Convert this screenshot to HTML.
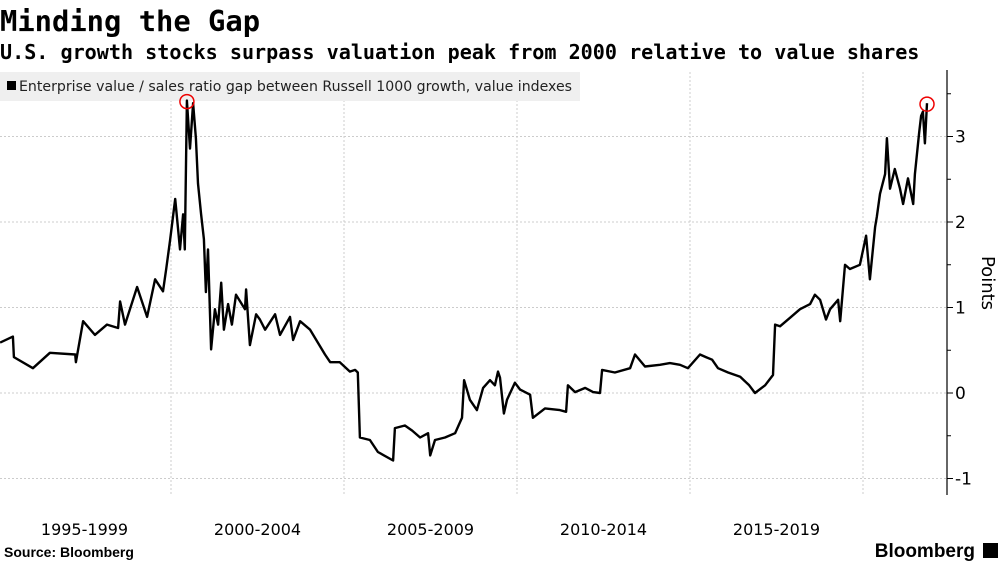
<!DOCTYPE html>
<html><head><meta charset="utf-8">
<style>
body{margin:0;background:#fff;width:1003px;height:564px;overflow:hidden;font-family:"Liberation Sans",sans-serif}
svg{display:block}
</style></head><body>
<svg width="1003" height="564">
<text x="0" y="31" font-family="DejaVu Sans Mono,monospace" font-weight="bold" font-size="28.8">Minding the Gap</text>
<text x="0" y="59" font-family="DejaVu Sans Mono,monospace" font-weight="bold" font-size="20.1">U.S. growth stocks surpass valuation peak from 2000 relative to value shares</text>
<g id="grid"></g>
<rect x="0" y="72" width="580" height="29" fill="#efefef"/>
<rect x="7" y="81" width="9" height="9" fill="#000"/>
<text x="19" y="91" font-family="DejaVu Sans,sans-serif" font-size="14" fill="#222" textLength="553" lengthAdjust="spacingAndGlyphs">Enterprise value / sales ratio gap between Russell 1000 growth, value indexes</text>
<g id="plot"></g>
<line x1="947" y1="70" x2="947" y2="495" stroke="#000" stroke-width="1.2"/>
<g id="yaxis"></g>
<g id="xaxis"></g>
<text transform="translate(982,283) rotate(90)" text-anchor="middle" font-family="DejaVu Sans,sans-serif" font-size="18">Points</text>
<text x="4" y="557" font-weight="bold" font-size="14">Source: Bloomberg</text>
<text x="975" y="557" text-anchor="end" font-weight="bold" font-size="19">Bloomberg</text>
<rect x="983" y="543" width="15" height="15" fill="#000"/>
</svg>
<script>
const years=[1995.06,1995.43,1995.46,1996.01,1996.5,1997.23,1997.25,1997.46,1997.80,1998.15,1998.47,1998.53,1998.67,1999.02,1999.31,1999.54,1999.77,1999.86,1999.97,2000.12,2000.26,2000.35,2000.40,2000.46,2000.55,2000.64,2000.72,2000.78,2000.87,2000.95,2001.01,2001.07,2001.16,2001.27,2001.36,2001.45,2001.53,2001.65,2001.76,2001.88,2002.14,2002.17,2002.28,2002.46,2002.57,2002.72,2003.01,2003.15,2003.44,2003.53,2003.73,2004.02,2004.45,2004.60,2004.88,2005.17,2005.32,2005.40,2005.46,2005.75,2005.98,2006.42,2006.47,2006.76,2006.97,2007.20,2007.43,2007.49,2007.63,2007.92,2008.21,2008.41,2008.47,2008.64,2008.84,2009.02,2009.22,2009.36,2009.45,2009.51,2009.62,2009.71,2009.94,2010.09,2010.38,2010.46,2010.81,2011.24,2011.42,2011.47,2011.68,2011.97,2012.20,2012.40,2012.46,2012.83,2013.27,2013.41,2013.70,2014.13,2014.42,2014.71,2014.94,2015.29,2015.46,2015.64,2015.81,2016.10,2016.45,2016.71,2016.88,2017.17,2017.40,2017.46,2017.60,2017.89,2018.18,2018.47,2018.61,2018.76,2018.93,2019.05,2019.28,2019.34,2019.48,2019.62,2019.91,2020.09,2020.20,2020.35,2020.40,2020.49,2020.64,2020.69,2020.78,2020.92,2021.07,2021.16,2021.30,2021.45,2021.50,2021.62,2021.68,2021.73,2021.79,2021.85];
const values=[0.59,0.66,0.42,0.29,0.47,0.45,0.36,0.84,0.68,0.80,0.76,1.07,0.80,1.24,0.89,1.33,1.19,1.45,1.78,2.27,1.68,2.09,1.68,3.42,2.86,3.39,2.98,2.45,2.09,1.80,1.18,1.68,0.51,0.98,0.80,1.29,0.74,1.04,0.80,1.15,0.98,1.21,0.56,0.92,0.86,0.74,0.92,0.68,0.89,0.62,0.84,0.74,0.45,0.36,0.36,0.25,0.27,0.24,-0.52,-0.55,-0.69,-0.79,-0.41,-0.38,-0.44,-0.52,-0.47,-0.73,-0.55,-0.52,-0.47,-0.29,0.15,-0.08,-0.20,0.06,0.15,0.09,0.25,0.18,-0.24,-0.08,0.12,0.04,-0.02,-0.29,-0.18,-0.20,-0.22,0.09,0.01,0.06,0.01,0.00,0.27,0.24,0.29,0.45,0.31,0.33,0.35,0.33,0.29,0.45,0.42,0.39,0.29,0.24,0.19,0.09,0.0,0.09,0.21,0.80,0.78,0.88,0.98,1.04,1.15,1.09,0.86,0.98,1.09,0.84,1.50,1.45,1.50,1.84,1.33,1.94,2.06,2.33,2.56,2.98,2.39,2.62,2.39,2.21,2.51,2.21,2.56,3.04,3.24,3.29,2.92,3.39];
const peakYears=[2000.46,2021.85];
const peakValues=[3.42,3.39];
const yTicks=[-1,0,1,2,3];
const yMinor=[-0.5,0.5,1.5,2.5,3.5];
const xGridYears=[2000,2005,2010,2015,2020];
const xLabels=["1995-1999","2000-2004","2005-2009","2010-2014","2015-2019"];
const xLabelYears=[1997.5,2002.5,2007.5,2012.5,2017.5];

const NS="http://www.w3.org/2000/svg";
function xs(yr){return -2+(yr-1995)*34.6;}
function ys(v){return 393-v*85.5;}
function mk(tag,attrs,parent){const e=document.createElementNS(NS,tag);for(const k in attrs)e.setAttribute(k,attrs[k]);parent.appendChild(e);return e;}
const grid=document.getElementById('grid'),plot=document.getElementById('plot'),ya=document.getElementById('yaxis'),xa=document.getElementById('xaxis');
yTicks.forEach(t=>{
  const l=mk('line',{x1:0,x2:947,y1:ys(t),y2:ys(t),stroke:'#ccc','stroke-dasharray':'2,2','stroke-width':1},grid);
  
  
  const tk=mk('line',{x1:947,x2:953,y1:ys(t),y2:ys(t),stroke:'#000'},ya);
  
  
  const tx=mk('text',{x:955,y:ys(t)+6,'font-size':17,'font-family':'DejaVu Sans,sans-serif'},ya);
  tx.textContent=t<0?'-'+Math.abs(t):String(t);
  
  
});
yMinor.forEach(t=>{
  const tk=mk('line',{x1:947,x2:951,y1:ys(t),y2:ys(t),stroke:'#000'},ya);
  
  
});
xGridYears.forEach(g=>{
  const l=mk('line',{x1:xs(g),x2:xs(g),y1:72,y2:495,stroke:'#ccc','stroke-dasharray':'2,2','stroke-width':1},grid);
  
  
});
xLabels.forEach((s,i)=>{
  const t=mk('text',{x:xs(xLabelYears[i]),y:535,'text-anchor':'middle','font-size':16,'font-family':'DejaVu Sans,sans-serif'},xa);
  t.textContent=s;
  
  
});
let d='';
years.forEach((yr,i)=>{d+=(i?'L':'M')+xs(yr).toFixed(1)+','+ys(values[i]).toFixed(1);});
const p=mk('path',{d:d,fill:'none',stroke:'#000','stroke-width':2.4,'stroke-linejoin':'round'},plot);


peakYears.forEach((yr,i)=>{
  const c=mk('circle',{cx:xs(yr),cy:ys(peakValues[i])+1,r:7,fill:'none',stroke:'#e00','stroke-width':1.5},plot);
  
  
});
</script>
</body></html>
